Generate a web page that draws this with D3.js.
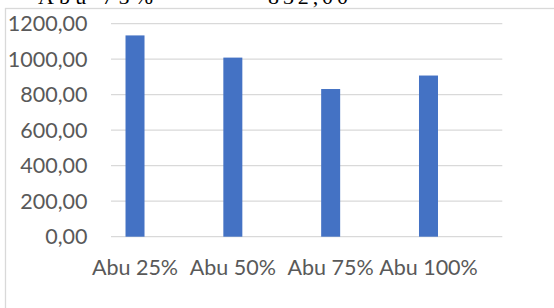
<!DOCTYPE html>
<html><head><meta charset="utf-8">
<script src="https://cdn.jsdelivr.net/npm/d3@7"></script>
<style>html,body{margin:0;padding:0;background:#fff;overflow:hidden}</style>
</head><body>
<svg id="c" width="554" height="308"></svg>
<script>
const categories = ["Abu 25%", "Abu 50%", "Abu 75%", "Abu 100%"];
const values = [1134, 1009, 832, 908];
const yTicks = [0, 200, 400, 600, 800, 1000, 1200];
const headerTexts = ["Abu 75%", "832,00"];

const svg = d3.select("#c");
const fmt = v => d3.format(".2f")(v).replace(".", ",");

// header text from the surrounding document (cut by the page edge, as in the source)
svg.append("text").attr("x", 38).attr("y", 4)
  .attr("font-family", "Liberation Serif").attr("font-size", 22).attr("fill", "#000")
  .attr("textLength", 115).attr("lengthAdjust", "spacing").text(headerTexts[0]);
svg.append("text").attr("x", 268).attr("y", 4)
  .attr("font-family", "Liberation Serif").attr("font-size", 22).attr("fill", "#000")
  .attr("textLength", 80).attr("lengthAdjust", "spacing").text(headerTexts[1]);

// chart frame
svg.append("rect").attr("x", 5.5).attr("y", 8.5).attr("width", 600).attr("height", 400)
  .attr("fill", "#fff").attr("stroke", "#d9d9d9").attr("stroke-width", 1.3);

const y = d3.scaleLinear().domain([0, 1200]).range([236.7, 23.7]);
const x = d3.scaleBand().domain(categories).range([86.1, 477.4]);
const gx0 = 111, gx1 = 502.3;

// gridlines
svg.append("g").selectAll("line").data(yTicks).join("line")
  .attr("x1", gx0).attr("x2", gx1)
  .attr("y1", d => y(d)).attr("y2", d => y(d))
  .attr("stroke", "#d9d9d9").attr("stroke-width", 1.3);

// y labels
svg.append("g").selectAll("text").data(yTicks).join("text")
  .attr("x", 87.5).attr("y", d => y(d)).attr("dy", "0.36em")
  .attr("text-anchor", "end").attr("font-family", "Lato").attr("font-size", 21.5)
  .attr("fill", "#595959").text(d => fmt(d));

// bars
const bw = 19;
svg.append("g").selectAll("rect").data(values).join("rect")
  .attr("x", (d, i) => x(categories[i]) + x.bandwidth() / 2 - bw / 2)
  .attr("y", d => y(d))
  .attr("width", bw)
  .attr("height", d => y(0) - y(d))
  .attr("fill", "#4472c4");

// x labels
svg.append("g").selectAll("text").data(categories).join("text")
  .attr("x", d => x(d) + x.bandwidth() / 2).attr("y", 275)
  .attr("text-anchor", "middle").attr("font-family", "Lato").attr("font-size", 21.5)
  .attr("fill", "#595959").text(d => d);
</script>
</body></html>
